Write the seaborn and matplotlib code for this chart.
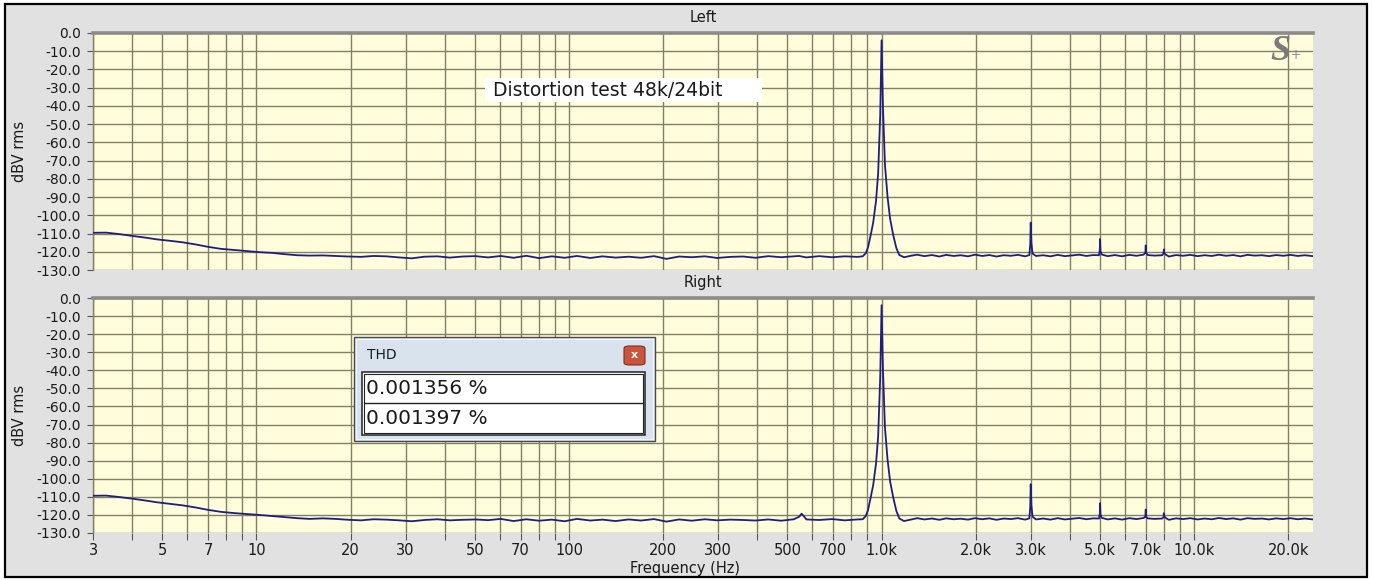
import numpy as np
import pandas as pd
import matplotlib
matplotlib.use("Agg")
import matplotlib.pyplot as plt
import seaborn as sns
from matplotlib.patches import Rectangle, FancyBboxPatch
from matplotlib.lines import Line2D
from matplotlib.ticker import NullFormatter

# ---------------- data ----------------
FREQ_HZ = [
    3.0, 3.3, 3.6, 4.0, 4.4, 4.8, 5.3, 5.8, 6.4, 7.0, 7.7, 8.5, 9.3, 10.2, 11.2, 12.3, 13.5, 14.8, 16.3, 17.9,
    19.7, 21.6, 23.7, 26.0, 28.6, 31.4, 34.5, 37.9, 41.6, 45.7,
    50.2, 55.1, 60.5, 66.5, 73.0, 80.2, 88.1, 96.8, 106, 117, 128, 141, 155, 170, 187, 205, 225, 247, 272, 298,
    328, 360, 395, 434, 477, 524, 545, 555, 575, 632, 694, 762, 837, 870, 890, 905, 920, 940, 960, 975,
    990, 1000, 1010, 1025, 1045, 1065, 1090, 1115, 1140, 1180, 1240, 1300, 1370, 1450, 1530, 1610, 1700, 1790, 1890, 1990,
    2100, 2210, 2330, 2460, 2590, 2730, 2880, 2970, 2990, 3000, 3015, 3040, 3120, 3290, 3470, 3660, 3860, 4070, 4290, 4520,
    4760, 4960, 4990, 5000, 5015, 5060, 5290, 5580, 5880, 6200, 6540, 6890, 6980, 7000, 7020, 7100, 7470, 7900, 7980, 8000,
    8020, 8100, 8300, 8750, 9220, 9720, 10250, 10800, 11390, 12000, 12650, 13340, 14060, 14820, 15620, 16470, 17360, 18300, 19290, 20330,
    21430, 22590, 24000,
]

LEFT_DBV = [
    -109.6, -109.5, -110.2, -111.3, -112.2, -113.2, -114.0, -114.8, -116.0, -117.3, -118.4, -119.0, -119.6, -120.2, -120.6, -121.3, -121.9, -122.1, -122.0, -122.3,
    -122.6, -122.8, -122.3, -122.5, -123.1, -123.6, -122.7, -122.5, -123.2, -122.6,
    -122.4, -123.1, -122.3, -123.3, -122.2, -123.5, -122.5, -123.3, -122.3, -123.4, -122.5, -123.2, -122.7, -123.3, -122.4, -123.9, -122.6, -123.0, -122.5, -123.4,
    -122.8, -122.6, -123.3, -122.4, -123.0, -122.5, -122.3, -122.6, -123.1, -122.4, -123.0, -122.5, -122.8, -122.5, -120.8, -117.5, -112.0, -104.0, -92.0, -77.0,
    -45.0, -4.0, -40.0, -72.0, -90.0, -102.0, -111.0, -118.0, -121.8, -123.0, -122.2, -121.6, -122.4, -121.8, -122.6, -121.7, -122.3, -121.9, -122.5, -121.6,
    -122.3, -121.8, -122.6, -121.9, -122.2, -121.7, -122.5, -121.8, -116.0, -104.0, -115.0, -121.0, -122.3, -121.9, -122.5, -121.7, -122.4, -122.0, -121.6, -122.3,
    -121.8, -121.9, -119.0, -113.0, -119.5, -121.5, -122.4, -121.8, -122.5, -121.7, -122.2, -121.6, -120.5, -116.5, -120.5, -121.8, -122.1, -121.9, -120.8, -118.7,
    -120.5, -121.5, -122.6, -121.8, -122.2, -121.7, -122.4, -121.9, -122.3, -121.6, -122.2, -121.8, -122.5, -121.7, -122.1, -121.9, -122.4, -121.8, -122.2, -121.7,
    -122.3, -121.9, -122.4,
]

RIGHT_DBV = [
    -109.4, -109.3, -110.0, -111.0, -112.0, -113.0, -113.9, -114.7, -115.9, -117.2, -118.3, -119.0, -119.5, -120.0, -120.6, -121.2, -121.8, -122.2, -121.9, -122.2,
    -122.7, -123.0, -122.4, -122.6, -123.0, -123.5, -122.8, -122.4, -123.0, -122.7,
    -122.5, -122.9, -122.2, -123.4, -122.4, -123.2, -122.6, -123.5, -122.2, -123.1, -122.6, -123.4, -122.5, -123.1, -122.3, -123.7, -122.5, -123.2, -122.4, -123.0,
    -122.6, -122.8, -123.1, -122.5, -123.2, -122.4, -121.0, -119.3, -122.5, -122.8, -122.3, -123.0, -122.5, -122.4, -120.6, -117.3, -111.5, -103.5, -91.5, -76.5,
    -44.0, -4.0, -39.0, -71.5, -89.5, -101.5, -110.5, -117.8, -122.0, -123.4, -122.6, -121.8, -122.5, -122.0, -122.7, -121.9, -122.4, -122.1, -122.6, -121.8,
    -122.4, -121.9, -122.7, -122.0, -122.3, -121.8, -122.6, -121.9, -115.5, -103.0, -114.5, -121.0, -122.5, -122.0, -122.6, -121.8, -122.5, -122.1, -121.7, -122.4,
    -121.9, -122.0, -119.5, -113.5, -119.8, -121.6, -122.5, -121.9, -122.6, -121.8, -122.3, -121.7, -121.0, -117.0, -121.0, -121.9, -122.2, -122.0, -121.2, -119.0,
    -120.8, -121.6, -122.7, -121.9, -122.3, -121.8, -122.5, -122.0, -122.4, -121.7, -122.3, -121.9, -122.6, -121.8, -122.2, -122.0, -122.5, -121.9, -122.3, -121.8,
    -122.4, -122.0, -122.5,
]

CHANNELS = ["Left", "Right"]
Y_TICKS = [0, -10, -20, -30, -40, -50, -60, -70, -80, -90, -100, -110, -120, -130]
Y_TICK_LABELS = ["0.0", "-10.0", "-20.0", "-30.0", "-40.0", "-50.0", "-60.0", "-70.0",
                 "-80.0", "-90.0", "-100.0", "-110.0", "-120.0", "-130.0"]
X_TICKS = [3, 5, 7, 10, 20, 30, 50, 70, 100, 200, 300, 500, 700, 1000, 2000, 3000, 5000, 7000, 10000, 20000]
X_TICK_LABELS = ["3", "5", "7", "10", "20", "30", "50", "70", "100", "200", "300", "500", "700",
                 "1.0k", "2.0k", "3.0k", "5.0k", "7.0k", "10.0k", "20.0k"]
X_MINOR = [4, 6, 8, 9, 40, 60, 80, 90, 400, 600, 800, 900, 4000, 6000, 8000, 9000]
THD_TITLE = "THD"
THD_VALUES = ["0.001356 %", "0.001397 %"]
NOTE_TEXT = "Distortion test 48k/24bit"

df = pd.DataFrame({"freq": FREQ_HZ, "Left": LEFT_DBV, "Right": RIGHT_DBV})

# ---------------- style ----------------
sns.set_theme(style="white")
plt.rcParams["font.family"] = ["DejaVu Sans"]

W, H = 1373, 580
BG = "#e1e1e1"
FACE = "#fffddc"
GRID = "#808064"
LINE = "#1e1e7c"

fig = plt.figure(figsize=(W / 100, H / 100), dpi=100)
fig.patch.set_facecolor("white")

def frect(x0, y0, x1, y1, **kw):
    return Rectangle((x0 / W, 1 - y1 / H), (x1 - x0) / W, (y1 - y0) / H,
                     transform=fig.transFigure, **kw)

# outer frame
frame = frect(5, 4, 1367, 577, facecolor=BG, edgecolor="black", linewidth=1.6, zorder=-10)
fig.patches.append(frame)

ax_top = fig.add_axes([93 / W, 1 - 270 / H, 1220 / W, 237 / H])
ax_bot = fig.add_axes([93 / W, 1 - 533 / H, 1220 / W, 235 / H])

for ax, ch in zip([ax_top, ax_bot], CHANNELS):
    ax.set_facecolor(FACE)
    sns.lineplot(data=df, x="freq", y=ch, ax=ax, color=LINE, linewidth=1.3,
                 estimator=None, sort=False, zorder=3)
    ax.set_xscale("log")
    ax.set_xlim(3, 24000)
    ax.set_ylim(-130, 0)
    ax.set_xticks(X_TICKS)
    ax.set_xticks(X_MINOR, minor=True)
    ax.xaxis.set_minor_formatter(NullFormatter())
    ax.set_yticks(Y_TICKS)
    ax.set_yticklabels(Y_TICK_LABELS, fontsize=10, color="#1a1a1a")
    ax.grid(True, which="both", axis="x", color=GRID, linewidth=1.0, zorder=1)
    ax.grid(True, which="major", axis="y", color=GRID, linewidth=1.0, zorder=1)
    ax.set_axisbelow(True)
    for s in ["right", "bottom"]:
        ax.spines[s].set_visible(False)
    ax.spines["left"].set_color(GRID)
    ax.spines["left"].set_linewidth(1.0)
    ax.spines["top"].set_color("#8c8c8c")
    ax.spines["top"].set_linewidth(2.6)
    ax.tick_params(axis="y", which="major", left=True, length=4, width=0.8,
                   color="#555555", pad=5)
    ax.set_title(ch, fontsize=10.5, pad=8, color="#1a1a1a")
    ax.set_ylabel("dBV rms", fontsize=10.5, color="#1a1a1a")
    ax.yaxis.set_label_coords(-0.054, 0.5)

ax_top.set_xticklabels([])
ax_top.tick_params(axis="x", which="both", bottom=False, length=0)
ax_top.set_xlabel("")

ax_bot.set_xticklabels(X_TICK_LABELS, fontsize=10.5, color="#1a1a1a")
ax_bot.tick_params(axis="x", which="both", bottom=True, length=5, width=0.8,
                   color="#555555", pad=2)
ax_bot.set_xlabel("Frequency (Hz)", fontsize=10.5, color="#1a1a1a")
ax_bot.xaxis.set_label_coords(0.485, -0.118)

# annotation in the top panel
fig.patches.append(frect(485, 78, 762, 102, facecolor="white", edgecolor="none", zorder=2))
fig.text(493 / W, 1 - 90 / H, NOTE_TEXT, fontsize=13.5, va="center", ha="left",
         color="#1a1a1a", zorder=3)

# S+ logo
fig.text(1280 / W, 1 - 51 / H, "S", fontsize=26, family="Liberation Serif",
         style="italic", weight="bold", color="#7a7a7a", ha="center", va="center", zorder=3)
fig.text(1295 / W, 1 - 57 / H, "+", fontsize=13, family="Liberation Serif",
         color="#7a7a7a", ha="center", va="center", zorder=3)

# THD dialog
fig.patches.append(frect(354, 337, 655, 441, facecolor="#d9e3ee", edgecolor="#4a4a4a",
                         linewidth=1.0, zorder=4))
fig.patches.append(frect(356, 339, 653, 439, facecolor="none", edgecolor="#f2f6fb",
                         linewidth=0.8, zorder=4))
fig.text(367 / W, 1 - 355 / H, THD_TITLE, fontsize=10, va="center", ha="left",
         color="#1a1a1a", zorder=6)
btn = FancyBboxPatch((624 / W, 1 - 365 / H), 21 / W, 19 / H,
                     boxstyle="round,pad=0,rounding_size=0.004",
                     transform=fig.transFigure, facecolor="#c8553c", edgecolor="#7a3222",
                     linewidth=0.8, zorder=5)
fig.patches.append(btn)
fig.text(634.5 / W, 1 - 355 / H, "x", fontsize=8, weight="bold", color="white",
         ha="center", va="center", zorder=6)
fig.patches.append(frect(362, 372, 645, 435, facecolor="white", edgecolor="#222222",
                         linewidth=1.1, zorder=5))
fig.patches.append(frect(364, 374, 643, 433, facecolor="none", edgecolor="#222222",
                         linewidth=0.8, zorder=5))
fig.lines.append(Line2D([364 / W, 643 / W], [1 - 403 / H, 1 - 403 / H],
                        transform=fig.transFigure, color="#222222", linewidth=1.0, zorder=6))
for i, val in enumerate(THD_VALUES):
    fig.text(366 / W, 1 - (388 + 31 * i) / H, val, fontsize=14.5, va="center", ha="left",
             color="#1a1a1a", zorder=6)

fig.savefig("out.png", dpi=100, facecolor=fig.get_facecolor())
